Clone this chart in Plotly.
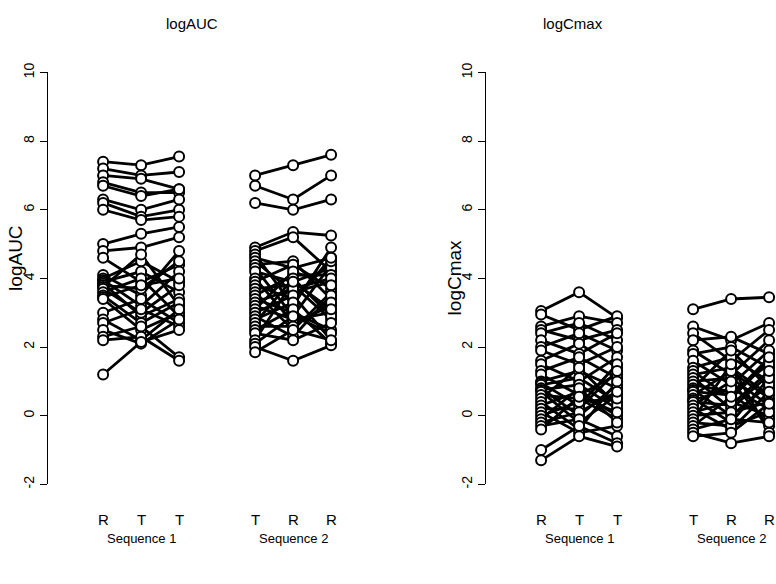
import plotly.graph_objects as go

# ---------------- data ----------------
seq1_labels = ["R", "T", "T"]
seq2_labels = ["T", "R", "R"]
seq_names = ["Sequence 1", "Sequence 2"]
seq1_pos = [1, 2, 3]
seq2_pos = [5, 6, 7]

# logAUC, sequence 1 (periods R, T, T)
auc_s1_p1 = [7.4, 7.2, 7.0, 6.8, 6.7, 6.3, 6.2, 6.0, 5.0, 4.8, 4.6, 4.1, 4.0, 3.95, 3.9, 3.85,
             3.8, 3.75, 3.7, 3.6, 3.5, 3.45, 3.4, 3.0, 2.8, 2.7, 2.5, 2.3, 2.2, 1.2]
auc_s1_p2 = [7.3, 7.0, 6.9, 6.5, 6.4, 6.0, 5.8, 5.7, 5.3, 4.9, 3.9, 3.5, 4.5, 3.2, 4.2, 2.9,
             3.7, 4.7, 3.0, 4.0, 2.7, 3.8, 2.5, 3.4, 2.2, 3.1, 2.1, 2.6, 2.3, 2.15]
auc_s1_p3 = [7.55, 7.1, 6.6, 6.5, 6.6, 6.3, 6.0, 5.8, 5.5, 5.2, 4.4, 4.8, 3.9, 4.2, 3.6, 3.4,
             4.5, 3.2, 3.8, 2.9, 3.3, 4.0, 3.0, 2.7, 3.1, 2.6, 2.8, 1.7, 1.6, 2.5]

# logAUC, sequence 2 (periods T, R, R)
auc_s2_p1 = [7.0, 6.7, 6.2, 4.9, 4.8, 4.7, 4.6, 4.5, 4.4, 4.3, 4.2, 4.0, 3.9, 3.8, 3.7, 3.6,
             3.5, 3.4, 3.3, 3.2, 3.1, 3.0, 2.9, 2.8, 2.7, 2.6, 2.5, 2.4, 2.2, 2.1, 2.0, 1.85]
auc_s2_p2 = [7.3, 6.3, 6.0, 5.35, 5.2, 3.2, 4.3, 3.6, 4.5, 2.9, 3.9, 2.7, 4.4, 3.4, 3.8, 2.5,
             4.1, 3.0, 3.7, 2.8, 4.2, 3.5, 2.3, 3.3, 4.0, 2.6, 3.1, 2.2, 3.9, 2.9, 1.6, 2.5]
auc_s2_p3 = [7.6, 7.0, 6.3, 5.25, 4.2, 4.9, 4.6, 3.9, 3.4, 4.4, 4.3, 3.2, 3.7, 4.5, 2.8, 3.6,
             4.1, 2.5, 4.0, 3.0, 3.8, 2.2, 3.5, 4.6, 2.9, 3.3, 2.1, 2.7, 3.1, 2.4, 2.05, 2.2]

# logCmax, sequence 1 (periods R, T, T)
cmax_s1_p1 = [3.05, 2.95, 2.6, 2.5, 2.4, 2.2, 2.0, 1.9, 1.6, 1.5, 1.3, 1.2, 1.0, 0.95, 0.9, 0.8,
              0.75, 0.7, 0.6, 0.5, 0.4, 0.3, 0.2, 0.1, 0.0, -0.1, -0.2, -0.3, -0.4, -1.0, -1.3]
cmax_s1_p2 = [3.6, 2.5, 2.9, 2.2, 2.7, 1.8, 2.4, 1.5, 2.1, 1.0, 1.7, 0.6, 1.3, 0.3, 1.1, 0.0,
              0.9, -0.2, 0.5, 1.4, -0.4, 0.7, 0.2, -0.5, 0.4, 0.8, 0.1, -0.1, 0.55, -0.3, -0.6]
cmax_s1_p3 = [2.85, 2.9, 2.7, 2.5, 2.2, 2.4, 1.9, 2.0, 1.4, 1.7, 1.1, 1.2, 0.8, 1.5, 0.4, 0.9,
              0.2, 0.6, -0.1, 0.3, 1.0, 0.0, 1.3, -0.3, 0.5, -0.2, 0.7, -0.6, 0.1, -0.8, -0.9]

# logCmax, sequence 2 (periods T, R, R)
cmax_s2_p1 = [3.1, 2.6, 2.4, 2.2, 1.9, 1.8, 1.6, 1.4, 1.3, 1.2, 1.1, 1.0, 0.9, 0.8, 0.75, 0.7,
              0.6, 0.5, 0.45, 0.4, 0.3, 0.2, 0.1, 0.0, -0.1, -0.2, -0.3, -0.4, -0.5, -0.6]
cmax_s2_p2 = [3.4, 2.2, 1.6, 2.3, 1.2, 2.0, 0.9, 1.7, 0.5, 1.4, 0.2, 1.1, 0.7, 1.9, 0.0, 0.6,
              1.3, -0.2, 0.8, 0.3, 1.0, -0.4, 0.4, 0.1, 1.5, -0.3, 0.55, -0.1, -0.8, -0.5]
cmax_s2_p3 = [3.45, 2.7, 2.5, 1.8, 2.2, 1.4, 1.9, 1.0, 1.6, 0.6, 1.2, 0.3, 1.5, 0.8, 0.9, -0.1,
              0.5, 1.1, 0.2, 1.3, -0.3, 0.7, 0.0, 0.4, -0.5, 0.1, 1.7, -0.2, -0.6, 0.35]

y_ticks = [-2, 0, 2, 4, 6, 8, 10]
panel_titles = ["logAUC", "logCmax"]

# ---------------- figure ----------------
W, H = 776, 584
FONT = "Liberation Sans, Arial, Helvetica, sans-serif"

fig = go.Figure()


def add_sequence(xa, ya, pos, p1, p2, p3):
    xs, ys = [], []
    for a, b, c in zip(p1, p2, p3):
        xs += [pos[0], pos[1], pos[2], None]
        ys += [a, b, c, None]
    fig.add_trace(go.Scatter(x=xs, y=ys, mode="lines", xaxis=xa, yaxis=ya,
                             line=dict(color="black", width=2.8), hoverinfo="skip",
                             showlegend=False, cliponaxis=False))
    mx = [pos[0]] * len(p1) + [pos[1]] * len(p2) + [pos[2]] * len(p3)
    my = list(p1) + list(p2) + list(p3)
    fig.add_trace(go.Scatter(x=mx, y=my, mode="markers", xaxis=xa, yaxis=ya,
                             marker=dict(symbol="circle", size=10, color="white",
                                         line=dict(color="black", width=2)),
                             showlegend=False, cliponaxis=False))


add_sequence("x", "y", seq1_pos, auc_s1_p1, auc_s1_p2, auc_s1_p3)
add_sequence("x", "y", seq2_pos, auc_s2_p1, auc_s2_p2, auc_s2_p3)
add_sequence("x2", "y2", seq1_pos, cmax_s1_p1, cmax_s1_p2, cmax_s1_p3)
add_sequence("x2", "y2", seq2_pos, cmax_s2_p1, cmax_s2_p2, cmax_s2_p3)

ydom = [(584 - 486) / H, (584 - 64) / H]
yax = dict(range=[-2, 10], tickvals=y_ticks, ticktext=[str(v) for v in y_ticks],
           showline=True, linecolor="black", linewidth=1.3, ticks="outside",
           ticklen=7, tickwidth=1.3, tickcolor="black", tickangle=-90,
           showgrid=False, zeroline=False, domain=ydom,
           tickfont=dict(family=FONT, size=14, color="black"))
fig.update_layout(
    width=W, height=H, margin=dict(l=0, r=0, t=0, b=0),
    paper_bgcolor="white", plot_bgcolor="white",
    xaxis=dict(domain=[48 / W, 388 / W], range=[-0.45, -0.45 + 340 / 38], visible=False),
    xaxis2=dict(domain=[486 / W, 1.0], range=[-0.45, -0.45 + 290 / 38], visible=False),
    yaxis=dict(**yax, anchor="x"),
    yaxis2=dict(**yax, anchor="x2"),
)

ann = []
# panel titles
for txt, cx in zip(panel_titles, [192, 573]):
    ann.append(dict(text=txt, x=cx / W, y=1 - 14 / H, xref="paper", yref="paper",
                    showarrow=False, xanchor="center", yanchor="middle",
                    font=dict(family=FONT, size=15, color="black")))
# y titles
for txt, cx, cy in zip(panel_titles, [16, 454], [255, 275]):
    ann.append(dict(text=txt, x=cx / W, y=1 - cy / H, xref="paper", yref="paper",
                    showarrow=False, xanchor="center", yanchor="middle", textangle=-90,
                    font=dict(family=FONT, size=19, color="black")))
# period labels and sequence names
for xa in ["x", "x2"]:
    for pos, labs, nm in [(seq1_pos, seq1_labels, seq_names[0]), (seq2_pos, seq2_labels, seq_names[1])]:
        for p, l in zip(pos, labs):
            ann.append(dict(text=l, x=p, y=1 - 522 / H, xref=xa, yref="paper",
                            showarrow=False, xanchor="center", yanchor="middle",
                            font=dict(family=FONT, size=15, color="black")))
        ann.append(dict(text=nm, x=pos[1], y=1 - 541 / H, xref=xa, yref="paper",
                        showarrow=False, xanchor="center", yanchor="middle",
                        font=dict(family=FONT, size=13, color="black")))
fig.update_layout(annotations=ann)

fig.write_html("out.html")
